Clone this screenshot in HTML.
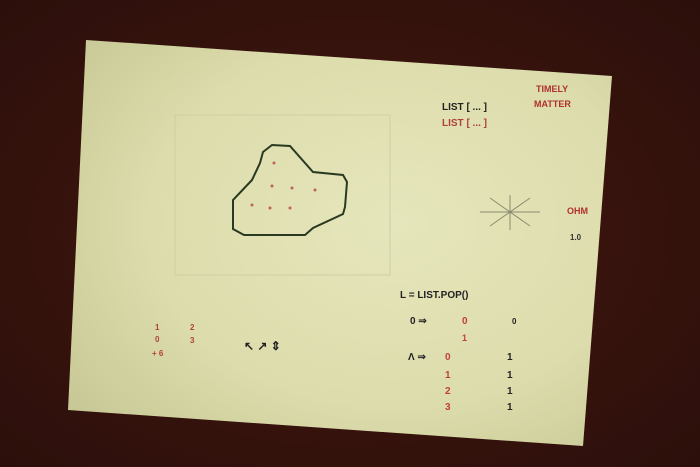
<!DOCTYPE html>
<html><head><meta charset="utf-8"><style>
html,body{margin:0;padding:0;background:#3a1410;}
svg{display:block}
text{font-family:"Liberation Sans",sans-serif;font-weight:bold}
</style></head><body>
<svg width="700" height="467" viewBox="0 0 700 467">
<defs>
<radialGradient id="bg" cx="0.5" cy="0.5" r="0.7">
<stop offset="0" stop-color="#45180f"/><stop offset="1" stop-color="#2c0f0b"/></radialGradient>
<radialGradient id="pg" cx="0.6" cy="0.45" r="0.75">
<stop offset="0" stop-color="#e6e6bc"/><stop offset="0.6" stop-color="#dcdcac"/><stop offset="1" stop-color="#c8c896"/></radialGradient>
</defs>
<rect width="700" height="467" fill="url(#bg)"/>
<polygon points="86,40 612,76 583,446 68,410" fill="url(#pg)"/>
<g stroke="#cfcfa8" stroke-width="1" fill="none">
<rect x="175" y="115" width="215" height="160"/>
</g>
<polygon fill="none" stroke="#2a3a22" stroke-width="2"
 points="263,152 272,145 290,146 313,172 343,175 347,182 345,207 343,214 313,228 305,235 244,235 233,229 233,200 252,180 260,163"/>
<g fill="#c06060">
<circle cx="274" cy="163" r="1.5"/><circle cx="272" cy="186" r="1.5"/><circle cx="292" cy="188" r="1.5"/><circle cx="315" cy="190" r="1.5"/><circle cx="252" cy="205" r="1.5"/><circle cx="270" cy="208" r="1.5"/><circle cx="290" cy="208" r="1.5"/></g>
<text x="442" y="110" font-size="10" fill="#222">LIST [ ... ]</text>
<text x="442" y="126" font-size="10" fill="#b04040">LIST [ ... ]</text>
<text x="536" y="92" font-size="9" fill="#b03030">TIMELY</text>
<text x="534" y="107" font-size="9" fill="#b03030">MATTER</text>
<text x="567" y="214" font-size="9" fill="#b03030">OHM</text>
<text x="570" y="240" font-size="8" fill="#333">1.0</text>
<g stroke="#8a8a70"><line x1="480" y1="212" x2="540" y2="212"/><line x1="510" y1="195" x2="510" y2="230"/><line x1="490" y1="198" x2="530" y2="226"/><line x1="490" y1="226" x2="530" y2="198"/></g>
<text x="400" y="298" font-size="10" fill="#222">L = LIST.POP()</text>
<text x="410" y="324" font-size="10" fill="#222">0 ⇒</text>
<text x="462" y="324" font-size="10" fill="#c04040">0</text>
<text x="512" y="324" font-size="8" fill="#222">0</text>
<text x="462" y="341" font-size="9" fill="#c04040">1</text>
<text x="408" y="360" font-size="10" fill="#222">Λ ⇒</text>
<text x="445" y="360" font-size="10" fill="#c04040">0</text>
<text x="445" y="378" font-size="10" fill="#c04040">1</text>
<text x="445" y="394" font-size="10" fill="#c04040">2</text>
<text x="445" y="410" font-size="10" fill="#c04040">3</text>
<g fill="#222" font-size="10"><text x="507" y="360">1</text><text x="507" y="378">1</text><text x="507" y="394">1</text><text x="507" y="410">1</text></g>
<g font-size="8" fill="#b04040"><text x="155" y="330">1</text><text x="155" y="342">0</text><text x="152" y="356">+ 6</text><text x="190" y="330">2</text><text x="190" y="343">3</text></g>
<text x="244" y="350" font-size="12" fill="#222">↖ ↗  ⇕</text>
</svg>
</body></html>
